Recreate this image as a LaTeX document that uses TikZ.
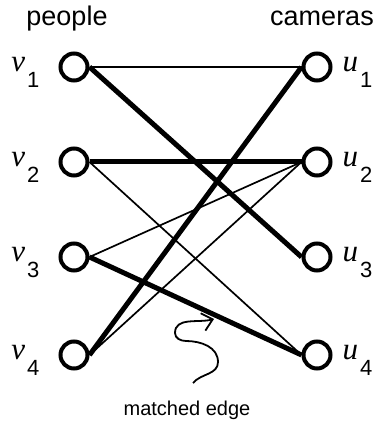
\documentclass[tikz,border=0pt]{standalone}
\usepackage{fontspec}
\setmainfont{Liberation Sans}
\newfontfamily\labelfont{Liberation Serif}
\usetikzlibrary{arrows.meta,positioning}

\newcommand{\vtx}[2]{{\labelfont\fontsize{31}{34}\selectfont\itshape #1}\hspace{2pt}\raisebox{-16pt}{\fontsize{22}{24}\selectfont #2}}

\begin{document}
\begin{tikzpicture}[x=1pt,y=1pt,
    vertex/.style={circle, draw, line width=4pt, minimum size=27pt, inner sep=0pt},
    lbl/.style={font=\fontsize{27}{30}\selectfont, inner sep=0pt},
    plain/.style={line width=1.7pt},
    matched/.style={line width=5pt}]
  \useasboundingbox (0,0) rectangle (380,423);
  % people on the left, cameras on the right
  \node[vertex] (v1) at (74,356) {};
  \node[vertex] (v2) at (74,261) {};
  \node[vertex] (v3) at (74,166) {};
  \node[vertex] (v4) at (74,68) {};
  \node[vertex] (u1) at (317,356) {};
  \node[vertex] (u2) at (317,261) {};
  \node[vertex] (u3) at (317,166) {};
  \node[vertex] (u4) at (317,68) {};
  \node[lbl, anchor=base east] (lv1) at ([xshift=-19pt,yshift=-5pt]v1.west) {\vtx{v}{1}};
  \node[lbl, anchor=base east] (lv2) at ([xshift=-19pt,yshift=-5pt]v2.west) {\vtx{v}{2}};
  \node[lbl, anchor=base east] (lv3) at ([xshift=-19pt,yshift=-5pt]v3.west) {\vtx{v}{3}};
  \node[lbl, anchor=base east] (lv4) at ([xshift=-19pt,yshift=-5pt]v4.west) {\vtx{v}{4}};
  \node[lbl, anchor=base west] (lu1) at ([xshift=10pt,yshift=-5pt]u1.east) {\vtx{u}{1}};
  \node[lbl, anchor=base west] (lu2) at ([xshift=10pt,yshift=-5pt]u2.east) {\vtx{u}{2}};
  \node[lbl, anchor=base west] (lu3) at ([xshift=10pt,yshift=-5pt]u3.east) {\vtx{u}{3}};
  \node[lbl, anchor=base west] (lu4) at ([xshift=10pt,yshift=-5pt]u4.east) {\vtx{u}{4}};
  \node[lbl, anchor=base] (people) at (67,397) {people};
  \node[lbl, anchor=base] (cameras) at (322,397) {cameras};
  \node[font=\fontsize{20}{22}\selectfont, anchor=base] (caption) at (187,8) {matched edge};
  % edges
  \draw[plain] (v1.east) -- (u1.west);
  \draw[matched] (v1.east) -- (u3.west);
  \draw[matched] (v2.east) -- (u2.west);
  \draw[plain] (v2.east) -- (u4.west);
  \draw[plain] (v3.east) -- (u2.west);
  \draw[matched] (v3.east) -- (u4.west);
  \draw[matched] (v4.east) -- (u1.west);
  \draw[plain] (v4.east) -- (u2.west);
  % pointer to a matched edge
  \coordinate (s) at (193,40);
  \coordinate (tip) at (214,104);
  \draw[line width=1.8pt, -{Straight Barb[length=10pt,width=18pt]}]
    (s) to[out=50,in=-90] (218,61) to[out=90,in=0] (186,82)
    to[out=180,in=-90] (175,90) to[out=90,in=195] (tip);
\end{tikzpicture}
\end{document}
